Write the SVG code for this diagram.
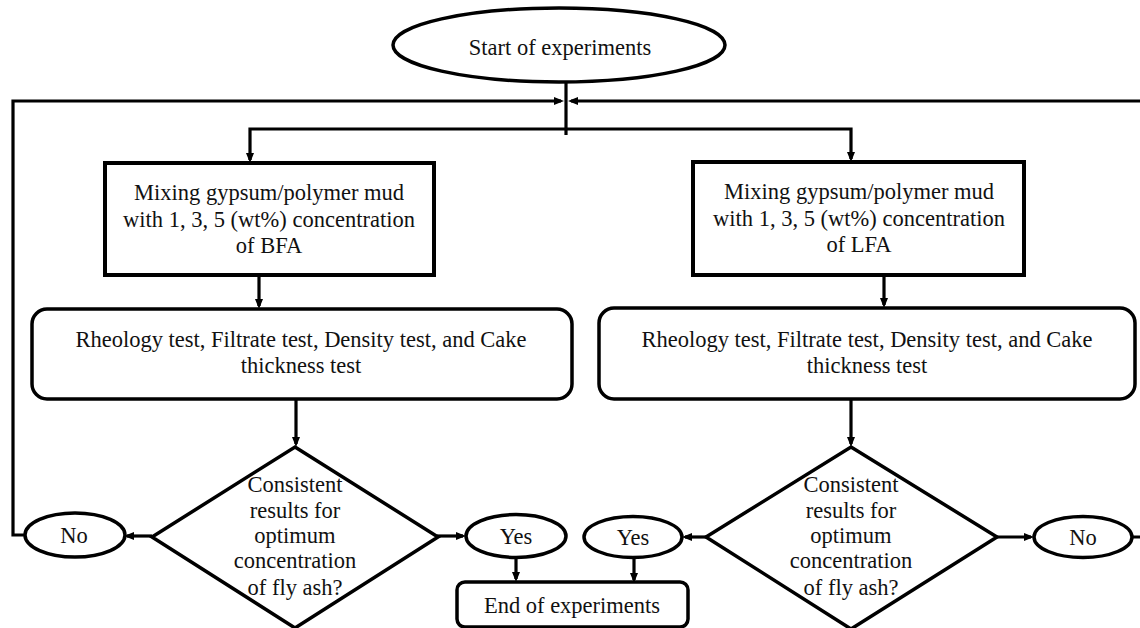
<svg xmlns="http://www.w3.org/2000/svg" width="1140" height="628" viewBox="0 0 1140 628">
<style>
  .shape { fill: #ffffff; stroke: #000000; stroke-width: 3.5; }
  .box { fill: #ffffff; stroke: #000000; stroke-width: 4; }
  .t { font-family: "Liberation Serif", "Times New Roman", serif; font-size: 22.5px; fill: #111111; text-anchor: middle; }
  .c { fill: none; stroke: #000000; stroke-width: 3.2; stroke-linejoin: miter; }
  .a { marker-end: url(#arrow); }
</style>
<defs>
  <marker id="arrow" viewBox="0 0 10 8" refX="7" refY="4" markerWidth="10" markerHeight="8" markerUnits="userSpaceOnUse" orient="auto">
    <path d="M0,0 L10,4 L0,8 Z" fill="#000000"/>
  </marker>
</defs>
<rect width="1140" height="628" fill="#ffffff"/>

<g id="connectors">
  <path class="c" d="M566,83 V135"/>
  <path class="c a" d="M566,129 H250 V160"/>
  <path class="c a" d="M566,129 H851 V159"/>
  <path class="c a" d="M25,535 H13 V101 H561"/>
  <path class="c a" d="M1132,537 H1143 V101 H571"/>
  <path class="c a" d="M259,275 V306"/>
  <path class="c a" d="M884,275 V305"/>
  <path class="c a" d="M296,399 V444"/>
  <path class="c a" d="M851,399 V444"/>
  <path class="c a" d="M152,536 H127"/>
  <path class="c a" d="M437,536 H463"/>
  <path class="c a" d="M706,537 H685"/>
  <path class="c a" d="M997,537 H1031"/>
  <path class="c a" d="M516,558 V579"/>
  <path class="c a" d="M634,558 V580"/>
</g>

<g id="start">
  <ellipse class="shape" cx="559" cy="45" rx="166" ry="37"/>
  <text class="t" x="560" y="55">Start of experiments</text>
</g>

<g id="mix-bfa">
  <rect class="box" x="105" y="163" width="329" height="112"/>
  <text class="t" x="269" y="200">Mixing gypsum/polymer mud</text>
  <text class="t" x="269" y="226.5">with 1, 3, 5 (wt%) concentration</text>
  <text class="t" x="269" y="253">of BFA</text>
</g>

<g id="mix-lfa">
  <rect class="box" x="693" y="162" width="331" height="113"/>
  <text class="t" x="859" y="199">Mixing gypsum/polymer mud</text>
  <text class="t" x="859" y="225.5">with 1, 3, 5 (wt%) concentration</text>
  <text class="t" x="859" y="252">of LFA</text>
</g>

<g id="tests-bfa">
  <rect class="shape" x="32" y="309" width="540" height="90" rx="15" ry="15"/>
  <text class="t" x="301" y="347">Rheology test, Filtrate test, Density test, and Cake</text>
  <text class="t" x="301" y="373">thickness test</text>
</g>

<g id="tests-lfa">
  <rect class="shape" x="599" y="308" width="536" height="91" rx="15" ry="15"/>
  <text class="t" x="867" y="347">Rheology test, Filtrate test, Density test, and Cake</text>
  <text class="t" x="867" y="373">thickness test</text>
</g>

<g id="decision-bfa">
  <polygon class="shape" points="295,447 438,537 295,628 152,537"/>
  <text class="t" x="295" y="492">Consistent</text>
  <text class="t" x="295" y="518">results for</text>
  <text class="t" x="295" y="543">optimum</text>
  <text class="t" x="295" y="568">concentration</text>
  <text class="t" x="295" y="595">of fly ash?</text>
</g>

<g id="decision-lfa">
  <polygon class="shape" points="851,447 997,537 851,629 706,537"/>
  <text class="t" x="851" y="492">Consistent</text>
  <text class="t" x="851" y="518">results for</text>
  <text class="t" x="851" y="543">optimum</text>
  <text class="t" x="851" y="568">concentration</text>
  <text class="t" x="851" y="595">of fly ash?</text>
</g>

<g id="no-bfa">
  <ellipse class="shape" cx="75" cy="535" rx="50" ry="22"/>
  <text class="t" x="74" y="543">No</text>
</g>

<g id="yes-bfa">
  <ellipse class="shape" cx="516" cy="536" rx="50" ry="21.5"/>
  <text class="t" x="516" y="544">Yes</text>
</g>

<g id="yes-lfa">
  <ellipse class="shape" cx="633" cy="537" rx="49" ry="20.5"/>
  <text class="t" x="633" y="545">Yes</text>
</g>

<g id="no-lfa">
  <ellipse class="shape" cx="1083" cy="537" rx="49" ry="20.5"/>
  <text class="t" x="1083" y="545">No</text>
</g>

<g id="end">
  <rect class="shape" x="457" y="582" width="231" height="45" rx="8" ry="8"/>
  <text class="t" x="572" y="613">End of experiments</text>
</g>
</svg>
